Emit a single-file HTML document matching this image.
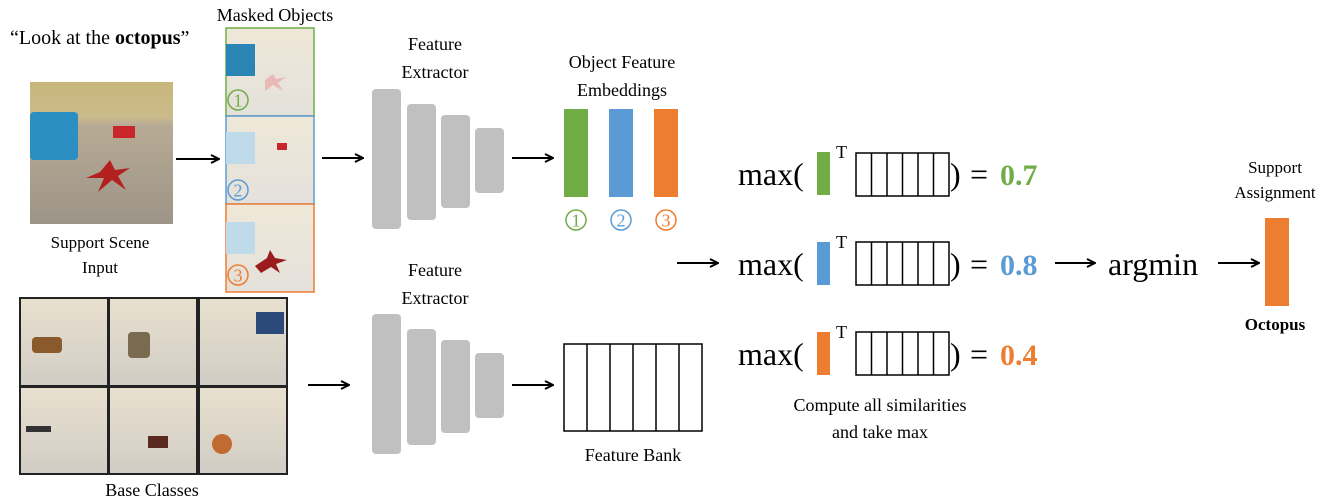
<!DOCTYPE html>
<html><head><meta charset="utf-8"><style>
html,body{margin:0;padding:0;background:#fff;}
svg{display:block;font-family:"Liberation Serif",serif;}
</style></head><body>
<svg width="1329" height="504" viewBox="0 0 1329 504" xmlns="http://www.w3.org/2000/svg">
<defs>
<marker id="ah" markerWidth="10" markerHeight="10" refX="9" refY="5" orient="auto" markerUnits="userSpaceOnUse">
<path d="M1,1 L9,5 L1,9" fill="none" stroke="#000" stroke-width="2"/>
</marker>
<linearGradient id="sc" x1="0" y1="0" x2="0" y2="1">
<stop offset="0" stop-color="#c8b67c"/><stop offset="0.25" stop-color="#cbbb8a"/><stop offset="0.3" stop-color="#b8ab95"/><stop offset="1" stop-color="#9c9487"/>
</linearGradient>
<linearGradient id="mk" x1="0" y1="0" x2="0" y2="1">
<stop offset="0" stop-color="#efe8d8"/><stop offset="1" stop-color="#e4e1dc"/>
</linearGradient>
<linearGradient id="bc" x1="0" y1="0" x2="0" y2="1">
<stop offset="0" stop-color="#e8e0cf"/><stop offset="1" stop-color="#d2cdc5"/>
</linearGradient>
</defs>

<text x="10" y="44" font-size="20">“Look at the <tspan font-weight="bold">octopus</tspan>”</text>
<rect x="30" y="82" width="143" height="142" fill="url(#sc)"/>
<rect x="30" y="112" width="48" height="48" rx="4" fill="#2b8fc4"/>
<path d="M100,172 l10,-12 l5,10 l15,-2 l-12,8 l8,14 l-14,-10 l-14,12 l6,-14 l-18,0z" fill="#b32020"/>
<rect x="113" y="126" width="22" height="12" fill="#c8262a"/>
<text x="100" y="248" font-size="17" text-anchor="middle">Support Scene</text>
<text x="100" y="273" font-size="17" text-anchor="middle">Input</text>
<line x1="176" y1="159" x2="219" y2="159" stroke="#000" stroke-width="2" marker-end="url(#ah)"/>

<text x="275" y="21" font-size="18" text-anchor="middle">Masked Objects</text>
<rect x="226" y="28" width="88" height="88" fill="url(#mk)" stroke="#70ad47" stroke-width="1.5"/>
<rect x="226" y="44" width="29" height="32" fill="#2a85b5"/>
<path d="M265,80 l8,-6 l3,5 l10,-2 l-8,6 l5,8 l-10,-6 -8,6z" fill="#e9b9b6"/>
<circle cx="238" cy="100" r="10" fill="none" stroke="#70ad47" stroke-width="1.5"/><text x="238" y="106.5" font-size="18" text-anchor="middle" fill="#70ad47">1</text>
<rect x="226" y="116" width="88" height="88" fill="url(#mk)" stroke="#5b9bd5" stroke-width="1.5"/>
<rect x="226" y="132" width="29" height="32" fill="#bfdbe9"/>
<rect x="277" y="143" width="10" height="7" fill="#c8262a"/>
<circle cx="238" cy="190" r="10" fill="none" stroke="#5b9bd5" stroke-width="1.5"/><text x="238" y="196.5" font-size="18" text-anchor="middle" fill="#5b9bd5">2</text>
<rect x="226" y="204" width="88" height="88" fill="url(#mk)" stroke="#ed7d31" stroke-width="1.5"/>
<rect x="226" y="222" width="29" height="32" fill="#bfdbe9"/>
<path d="M255,266 l12,-8 l3,-8 l5,8 l12,2 l-11,4 l4,9 l-9,-6 -10,6z" fill="#9b1c1c"/>
<circle cx="238" cy="275" r="10" fill="none" stroke="#ed7d31" stroke-width="1.5"/><text x="238" y="281.5" font-size="18" text-anchor="middle" fill="#ed7d31">3</text>

<rect x="19" y="297" width="269" height="178" fill="#222"/>
<g fill="url(#bc)">
<rect x="21" y="299" width="86" height="86"/><rect x="110" y="299" width="86" height="86"/><rect x="200" y="299" width="86" height="86"/>
<rect x="21" y="388" width="86" height="85"/><rect x="110" y="388" width="86" height="85"/><rect x="200" y="388" width="86" height="85"/>
</g>
<rect x="32" y="337" width="30" height="16" rx="4" fill="#8a5a2c"/>
<rect x="128" y="332" width="22" height="26" rx="4" fill="#7a6a50"/>
<rect x="256" y="312" width="28" height="22" fill="#2b4a7a"/>
<rect x="26" y="426" width="25" height="6" fill="#333"/>
<rect x="148" y="436" width="20" height="12" fill="#5a2a20"/>
<circle cx="222" cy="444" r="10" fill="#c26b30"/>
<text x="152" y="496" font-size="18" text-anchor="middle">Base Classes</text>

<line x1="322" y1="158" x2="363" y2="158" stroke="#000" stroke-width="2" marker-end="url(#ah)"/>
<line x1="308" y1="385" x2="349" y2="385" stroke="#000" stroke-width="2" marker-end="url(#ah)"/>

<text x="435" y="50" font-size="18" text-anchor="middle">Feature</text>
<text x="435" y="78" font-size="18" text-anchor="middle">Extractor</text>
<g fill="#c0c0c0">
<rect x="372" y="89" width="29" height="140" rx="4"/><rect x="407" y="104" width="29" height="116" rx="4"/>
<rect x="441" y="115" width="29" height="93" rx="4"/><rect x="475" y="128" width="29" height="65" rx="4"/>
</g>
<text x="435" y="276" font-size="18" text-anchor="middle">Feature</text>
<text x="435" y="304" font-size="18" text-anchor="middle">Extractor</text>
<g fill="#c0c0c0">
<rect x="372" y="314" width="29" height="140" rx="4"/><rect x="407" y="329" width="29" height="116" rx="4"/>
<rect x="441" y="340" width="29" height="93" rx="4"/><rect x="475" y="353" width="29" height="65" rx="4"/>
</g>
<line x1="512" y1="158" x2="553" y2="158" stroke="#000" stroke-width="2" marker-end="url(#ah)"/>
<line x1="512" y1="385" x2="553" y2="385" stroke="#000" stroke-width="2" marker-end="url(#ah)"/>

<text x="622" y="68" font-size="18" text-anchor="middle">Object Feature</text>
<text x="622" y="96" font-size="18" text-anchor="middle">Embeddings</text>
<rect x="564" y="109" width="24" height="88" fill="#70ad47"/>
<rect x="609" y="109" width="24" height="88" fill="#5b9bd5"/>
<rect x="654" y="109" width="24" height="88" fill="#ed7d31"/>
<circle cx="576" cy="220" r="10" fill="none" stroke="#70ad47" stroke-width="1.5"/><text x="576" y="226.5" font-size="18" text-anchor="middle" fill="#70ad47">1</text>
<circle cx="621" cy="220" r="10" fill="none" stroke="#5b9bd5" stroke-width="1.5"/><text x="621" y="226.5" font-size="18" text-anchor="middle" fill="#5b9bd5">2</text>
<circle cx="666" cy="220" r="10" fill="none" stroke="#ed7d31" stroke-width="1.5"/><text x="666" y="226.5" font-size="18" text-anchor="middle" fill="#ed7d31">3</text>

<g fill="none" stroke="#000" stroke-width="1.5">
<rect x="564" y="344" width="138" height="87"/>
<line x1="587" y1="344" x2="587" y2="431"/><line x1="610" y1="344" x2="610" y2="431"/><line x1="633" y1="344" x2="633" y2="431"/><line x1="656" y1="344" x2="656" y2="431"/><line x1="679" y1="344" x2="679" y2="431"/>
</g>
<text x="633" y="461" font-size="18" text-anchor="middle">Feature Bank</text>

<line x1="677" y1="263" x2="718" y2="263" stroke="#000" stroke-width="2" marker-end="url(#ah)"/>

<g>
<text x="738" y="185" font-size="32">max(</text>
<rect x="817" y="152" width="13" height="43" fill="#70ad47"/>
<text x="836" y="158" font-size="18">T</text>
<g fill="none" stroke="#000" stroke-width="1.5"><rect x="856" y="153" width="93" height="43"/>
<path d="M871.5,153v43M887,153v43M902.5,153v43M918,153v43M933.5,153v43"/></g>
<text x="950" y="185" font-size="32">)</text><text x="970" y="185" font-size="32">=</text>
<text x="1000" y="185" font-size="30" font-weight="bold" fill="#70ad47">0.7</text>
</g>
<g>
<text x="738" y="275" font-size="32">max(</text>
<rect x="817" y="242" width="13" height="43" fill="#5b9bd5"/>
<text x="836" y="248" font-size="18">T</text>
<g fill="none" stroke="#000" stroke-width="1.5"><rect x="856" y="242" width="93" height="43"/>
<path d="M871.5,242v43M887,242v43M902.5,242v43M918,242v43M933.5,242v43"/></g>
<text x="950" y="275" font-size="32">)</text><text x="970" y="275" font-size="32">=</text>
<text x="1000" y="275" font-size="30" font-weight="bold" fill="#5b9bd5">0.8</text>
</g>
<g>
<text x="738" y="365" font-size="32">max(</text>
<rect x="817" y="332" width="13" height="43" fill="#ed7d31"/>
<text x="836" y="338" font-size="18">T</text>
<g fill="none" stroke="#000" stroke-width="1.5"><rect x="856" y="332" width="93" height="43"/>
<path d="M871.5,332v43M887,332v43M902.5,332v43M918,332v43M933.5,332v43"/></g>
<text x="950" y="365" font-size="32">)</text><text x="970" y="365" font-size="32">=</text>
<text x="1000" y="365" font-size="30" font-weight="bold" fill="#ed7d31">0.4</text>
</g>
<text x="880" y="411" font-size="18" text-anchor="middle">Compute all similarities</text>
<text x="880" y="438" font-size="18" text-anchor="middle">and take max</text>

<line x1="1055" y1="263" x2="1095" y2="263" stroke="#000" stroke-width="2" marker-end="url(#ah)"/>
<text x="1108" y="275" font-size="32">argmin</text>
<line x1="1218" y1="263" x2="1259" y2="263" stroke="#000" stroke-width="2" marker-end="url(#ah)"/>

<text x="1275" y="173" font-size="17" text-anchor="middle">Support</text>
<text x="1275" y="198" font-size="17" text-anchor="middle">Assignment</text>
<rect x="1265" y="218" width="24" height="88" fill="#ed7d31"/>
<text x="1275" y="330" font-size="17" font-weight="bold" text-anchor="middle">Octopus</text>
</svg>
</body></html>
